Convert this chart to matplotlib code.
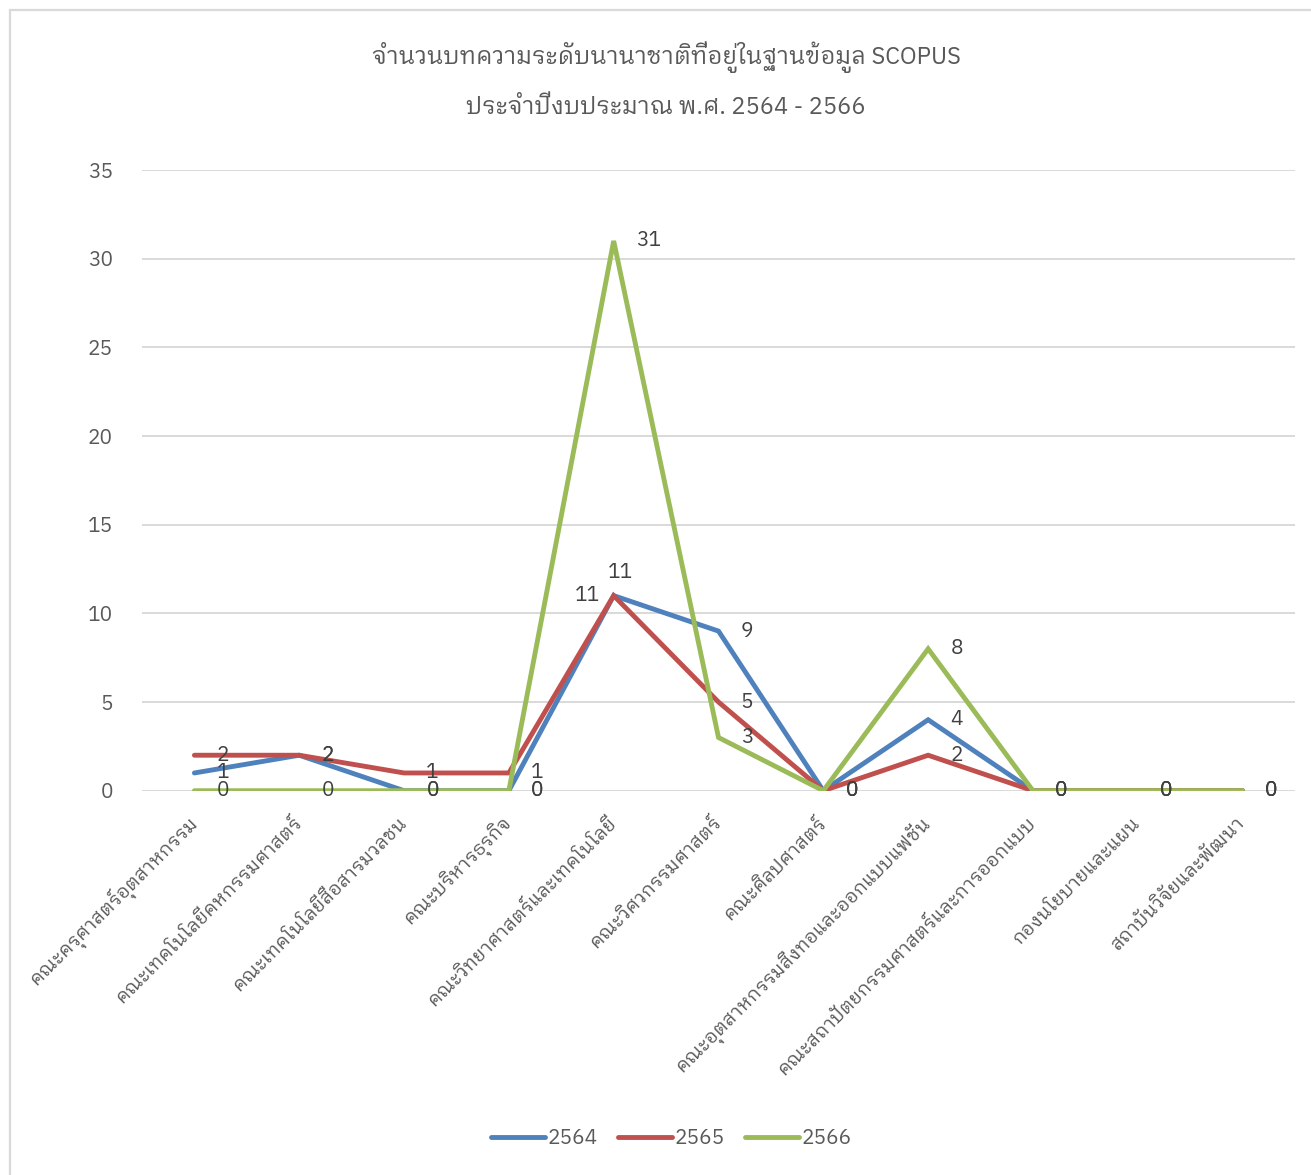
import matplotlib
matplotlib.use("Agg")
import matplotlib.pyplot as plt
import matplotlib.transforms as mtransforms
from matplotlib.patches import Rectangle
import numpy as np

plt.rcParams['font.family'] = ['IBM Plex Sans Thai Looped', 'DejaVu Sans']
plt.rcParams['font.weight'] = 'normal'

# ---------------- data ----------------
categories = [
    "คณะครุศาสตร์อุตสาหกรรม",
    "คณะเทคโนโลยีคหกรรมศาสตร์",
    "คณะเทคโนโลยีสื่อสารมวลชน",
    "คณะบริหารธุรกิจ",
    "คณะวิทยาศาสตร์และเทคโนโลยี",
    "คณะวิศวกรรมศาสตร์",
    "คณะศิลปศาสตร์",
    "คณะอุตสาหกรรมสิ่งทอและออกแบบแฟชั่น",
    "คณะสถาปัตยกรรมศาสตร์และการออกแบบ",
    "กองนโยบายและแผน",
    "สถาบันวิจัยและพัฒนา",
]
series_names = ["2564", "2565", "2566"]
values_2564 = [1, 2, 0, 0, 11, 9, 0, 4, 0, 0, 0]
values_2565 = [2, 2, 1, 1, 11, 5, 0, 2, 0, 0, 0]
values_2566 = [0, 0, 0, 0, 31, 3, 0, 8, 0, 0, 0]
yticks = [0, 5, 10, 15, 20, 25, 30, 35]
title_lines = ["จำนวนบทความระดับนานาชาติที่อยู่ในฐานข้อมูล SCOPUS",
               "ประจำปีงบประมาณ พ.ศ. 2564 - 2566"]

colors = ["#4F81BD", "#C0504D", "#9BBB59"]
text_col = "#595959"
label_col = "#404040"
grid_col = "#D9D9D9"

W, H = 1311, 1175
fig = plt.figure(figsize=(W / 100, H / 100), dpi=100)

# outer chart border (left & top visible, right/bottom cropped)
fig.patches.append(Rectangle((10 / W, -0.05), 1.2, 1 - 10 / H + 0.05,
                             transform=fig.transFigure, fill=False,
                             edgecolor=grid_col, linewidth=1.6))

ax_left, ax_right = 142 / W, 1295 / W
ax_top, ax_bot = 1 - 170 / H, 1 - 790.7 / H
ax = fig.add_axes([ax_left, ax_bot, ax_right - ax_left, ax_top - ax_bot])

x = np.arange(len(categories))
all_vals = [values_2564, values_2565, values_2566]
lines = []
for vals, c, name in zip(all_vals, colors, series_names):
    ln, = ax.plot(x, vals, color=c, linewidth=3.5, solid_capstyle='round',
                  solid_joinstyle='miter', label=name, zorder=3)
    lines.append(ln)

# data labels
for si, vals in enumerate(all_vals):
    for i, v in enumerate(vals):
        if si == 0 and i == 4:
            ax.annotate(str(v), (x[i], v), xytext=(5, 10), textcoords='offset points',
                        ha='center', va='bottom', fontsize=15, color=label_col)
        elif si == 1 and i == 4:
            ax.annotate(str(v), (x[i], v), xytext=(-10, 0), textcoords='offset points',
                        ha='right', va='center', fontsize=15, color=label_col)
        else:
            ax.annotate(str(v), (x[i], v), xytext=(16, 0), textcoords='offset points',
                        ha='left', va='center', fontsize=15, color=label_col)

ax.set_xlim(-0.5, len(categories) - 0.5)
ax.set_ylim(0, 35)
ax.set_yticks(yticks)
ax.set_yticklabels([str(t) for t in yticks])
ax.yaxis.grid(True, color=grid_col, linewidth=1.4, zorder=0)
ax.set_axisbelow(True)
for s in ax.spines.values():
    s.set_visible(False)
ax.tick_params(axis='y', length=0, pad=21, labelsize=15, labelcolor=text_col)
ax.tick_params(axis='x', length=0, pad=6, labelsize=13.5, labelcolor=text_col)
ax.set_xticks(x)
ax.set_xticklabels(categories, rotation=45, ha='right', va='center',
                   rotation_mode='anchor')
for lab in ax.get_xticklabels():
    lab.set_transform(lab.get_transform() + mtransforms.ScaledTranslation(0 / 100, -21 / 100, fig.dpi_scale_trans))

# title
fig.text(0.508, 1 - 57 / H, title_lines[0], ha='center', va='center', fontsize=17, color=text_col)
fig.text(0.508, 1 - 107 / H, title_lines[1], ha='center', va='center', fontsize=17, color=text_col)

# legend
fig.legend(handles=lines, labels=series_names, loc='center', ncol=3,
           bbox_to_anchor=(0.512, 1 - 1139 / H), frameon=False, fontsize=15,
           handlelength=2.6, handletextpad=0.1, columnspacing=1.0,
           labelcolor=text_col)

fig.savefig("out.png", dpi=100, facecolor='white')
